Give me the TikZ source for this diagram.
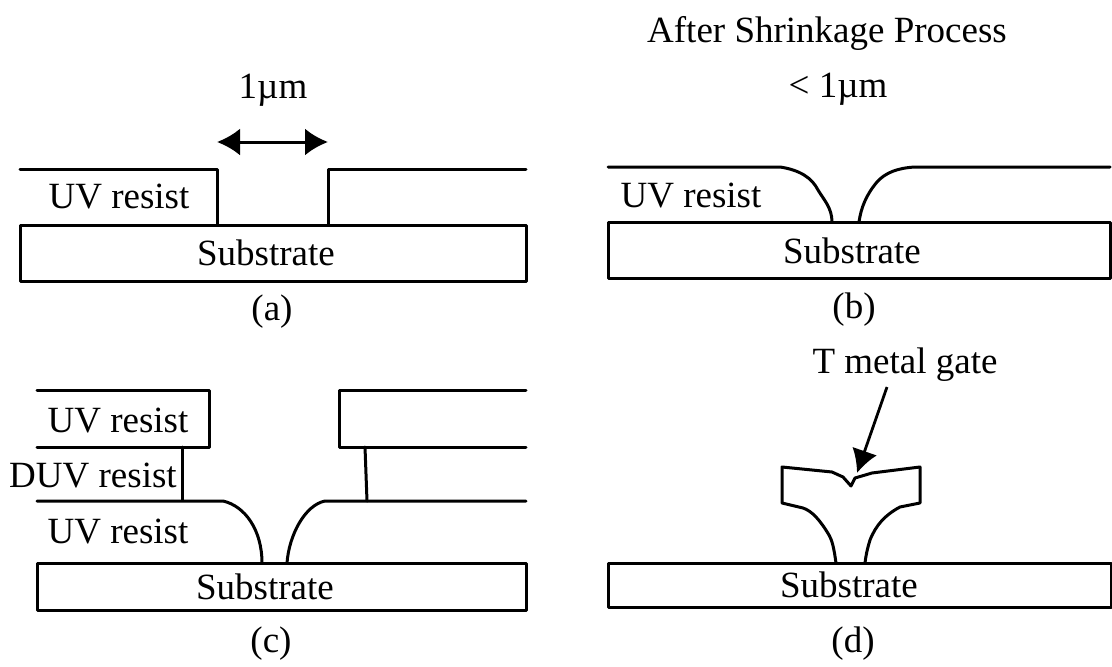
\documentclass[tikz,border=0pt]{standalone}
\usepackage{fontspec}
\setmainfont{Liberation Serif}
\usetikzlibrary{arrows.meta}
\tikzset{
  ln/.style={draw=black,line width=3pt,line join=round,line cap=round},
  lab/.style={font=\fontsize{37}{40}\selectfont,text=black,inner sep=0pt,anchor=base},
  dbl/.style={line width=3pt,{Latex[length=23pt,width=27pt]}-{Latex[length=23pt,width=27pt]}}
}
\begin{document}
\begin{tikzpicture}[x=1pt,y=-1pt]
\useasboundingbox (0,0) rectangle (1112,667);
\fill[white] (0,0) rectangle (1112,667);
% a
\draw[ln] (20,225) rectangle (526,281);
\draw[ln] (20,169) -- (217,169) -- (217,225);
\draw[ln] (328,225) -- (328,169) -- (526,169);
\coordinate (a1) at (217,142); \coordinate (a2) at (328,142);
\draw[dbl] (a1) -- (a2);
\node[lab] at (273,98) {1µm};
\node[lab] at (119,208) {UV resist};
\node[lab] at (266,265) {Substrate};
\node[lab] at (272,320) {(a)};
% b
\draw[ln] (608,222) rectangle (1110,278);
\draw[ln] (608,167) -- (780,167) .. controls (800,170) and (812,178) .. (818,190) .. controls (824,200) and (832,208) .. (832,222);
\draw[ln] (859,222) .. controls (861,208) and (866,195) .. (877,182) .. controls (885,173) and (897,168) .. (915,167) -- (1110,167);
\node[lab] at (691,207) {UV resist};
\node[lab] at (852,263) {Substrate};
\node[lab] at (854,318) {(b)};
\node[lab] at (827,42) {After Shrinkage Process};
\node[lab] at (838,97) {< 1µm};
% c
\draw[ln] (37,563) rectangle (526,610);
\draw[ln] (37,390) -- (209,390) -- (209,447) -- (37,447);
\draw[ln] (182,447) -- (182,500);
\draw[ln] (37,501) -- (223,501) .. controls (245,506) and (262,530) .. (262,563);
\draw[ln] (287,563) .. controls (289,535) and (305,505) .. (325,501) -- (526,501);
\draw[ln] (526,390) -- (339,390) -- (339,447) -- (526,447);
\draw[ln] (365,447) -- (367,501);
\node[lab] at (118,432) {UV resist};
\node[lab] at (93,487) {DUV resist};
\node[lab] at (118,543) {UV resist};
\node[lab] at (265,599) {Substrate};
\node[lab] at (271,652) {(c)};
% d
\draw[ln] (608,563) rectangle (1111,607);
\draw[ln] (836,563) .. controls (834,548) and (832,540) .. (829,535) .. controls (820,520) and (812,511) .. (803,508) -- (782,503) -- (782,467) -- (832,472) -- (843,477) -- (851,486) -- (855,478) -- (872,473) -- (920,467) -- (920,503) -- (900,507) .. controls (885,515) and (876,525) .. (870,540) .. controls (867,550) and (866,555) .. (865,563);
\coordinate (d1) at (887,387); \coordinate (d2) at (857,473);
\draw[line width=2.8pt,-{Latex[length=23pt,width=26pt]}] (d1) -- (d2);
\node[lab] at (905,373) {T metal gate};
\node[lab] at (849,597) {Substrate};
\node[lab] at (853,652) {(d)};
\end{tikzpicture}
\end{document}
